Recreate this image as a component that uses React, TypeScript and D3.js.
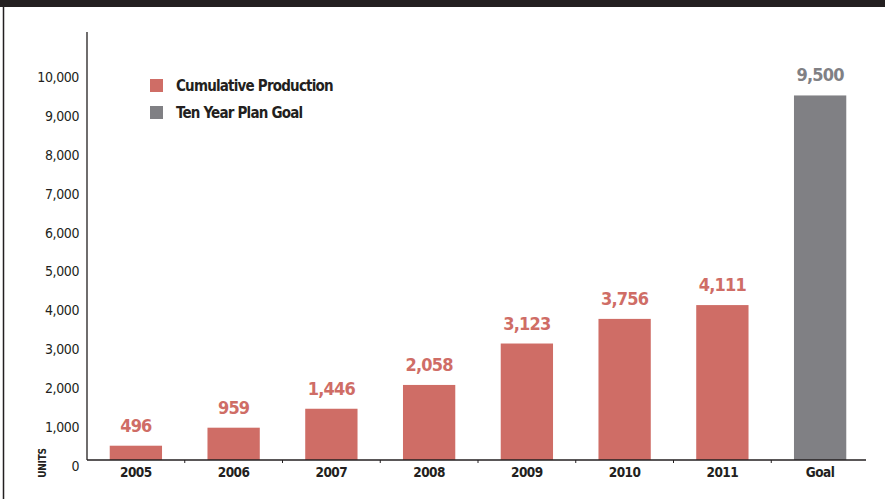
import React from "react";
import * as d3 from "d3";

const categories = ["2005", "2006", "2007", "2008", "2009", "2010", "2011", "Goal"];
const values = [496, 959, 1446, 2058, 3123, 3756, 4111, 9500];
const valueLabels = ["496", "959", "1,446", "2,058", "3,123", "3,756", "4,111", "9,500"];
const seriesOf = ["prod", "prod", "prod", "prod", "prod", "prod", "prod", "goal"];
const yTicks = [0, 1000, 2000, 3000, 4000, 5000, 6000, 7000, 8000, 9000, 10000];
const legendItems = [
  { key: "prod", label: "Cumulative Production" },
  { key: "goal", label: "Ten Year Plan Goal" },
];

const W = 885;
const H = 499;
const FONT = "'DejaVu Sans Condensed', 'DejaVu Sans', sans-serif";
const DARK = "#231f20";
const colors: Record<string, string> = { prod: "#cf6d66", goal: "#808084" };
const labelColors: Record<string, string> = { prod: "#cf6d66", goal: "#808084" };

export default function App() {
  const x = d3.scaleBand().domain(categories).range([87, 869]).paddingInner(0.465).paddingOuter(0.2325);
  const y = d3.scaleLinear().domain([0, 10000]).range([465, 76]);
  const baseline = 460;
  const step = x.step();
  const fmt = d3.format(",");

  return (
    <div style={{ position: "absolute", left: 0, top: 0 }}>
      <svg width={W} height={H} style={{ display: "block", background: "#fff" }}>
        <rect x={0} y={0} width={W} height={7} fill={DARK} />
        <line x1={3.5} x2={3.5} y1={7} y2={H} stroke={DARK} strokeWidth={1.5} />
        {/* y axis */}
        <line x1={87} x2={87} y1={32} y2={baseline} stroke={DARK} strokeWidth={1.3} />
        {yTicks.map((t) => (
          <text key={t} x={79} y={y(t) + 1} dy="0.35em" textAnchor="end" fontFamily={FONT} fontSize={14} letterSpacing={-0.4} fill={DARK}>
            {fmt(t)}
          </text>
        ))}
        <text
          transform={`translate(42, ${463}) rotate(-90)`}
          textAnchor="middle"
          dy="0.35em"
          fontFamily={FONT}
          fontWeight="bold"
          fontSize={10}
          letterSpacing={-0.3}
          fill={DARK}
        >
          UNITS
        </text>
        {/* bars */}
        {categories.map((c, i) => (
          <rect
            key={c}
            x={x(c)}
            y={y(values[i])}
            width={x.bandwidth()}
            height={baseline - y(values[i])}
            fill={colors[seriesOf[i]]}
          />
        ))}
        {categories.map((c, i) => (
          <text
            key={c + "v"}
            x={(x(c) as number) + x.bandwidth() / 2}
            y={y(values[i]) - 14}
            textAnchor="middle"
            fontFamily={FONT}
            fontWeight="bold"
            fontSize={18}
            letterSpacing={-0.8}
            fill={labelColors[seriesOf[i]]}
          >
            {valueLabels[i]}
          </text>
        ))}
        {/* x axis */}
        <line x1={87} x2={866} y1={baseline} y2={baseline} stroke={DARK} strokeWidth={1.3} />
        {categories.slice(0, -1).map((c, i) => (
          <line key={c + "t"} x1={87 + step * (i + 1)} x2={87 + step * (i + 1)} y1={baseline} y2={baseline + 3} stroke={DARK} strokeWidth={1} />
        ))}
        {categories.map((c) => (
          <text
            key={c + "x"}
            x={(x(c) as number) + x.bandwidth() / 2}
            y={472}
            dy="0.35em"
            textAnchor="middle"
            fontFamily={FONT}
            fontWeight="bold"
            fontSize={13.5}
            letterSpacing={-0.5}
            fill={DARK}
          >
            {c}
          </text>
        ))}
        {/* legend */}
        {legendItems.map((l, i) => (
          <g key={l.key} transform={`translate(150, ${79 + i * 27})`}>
            <rect x={0} y={0} width={13} height={13} fill={colors[l.key]} />
            <text x={26} y={7} dy="0.35em" fontFamily={FONT} fontWeight="bold" fontSize={15} letterSpacing={-0.8} fill={DARK}>
              {l.label}
            </text>
          </g>
        ))}
      </svg>
    </div>
  );
}
